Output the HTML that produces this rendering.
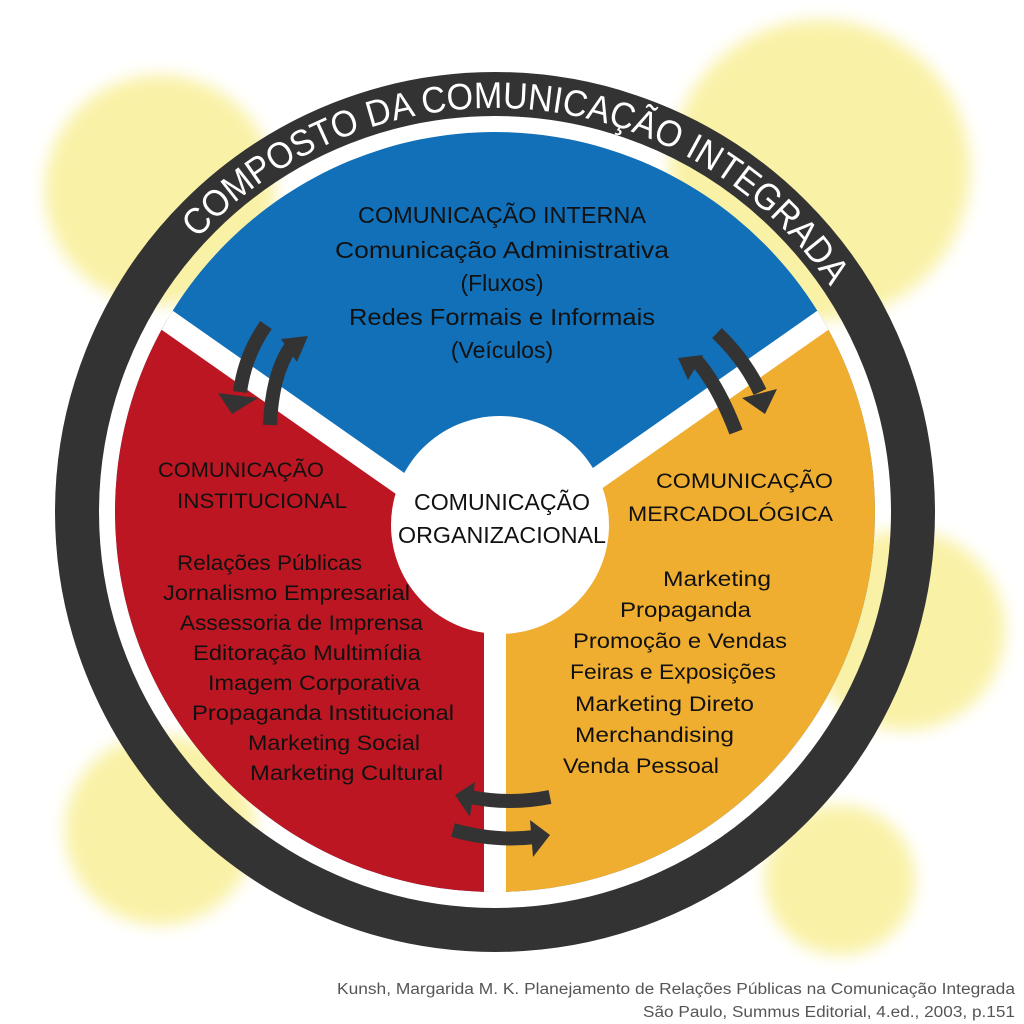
<!DOCTYPE html>
<html><head><meta charset="utf-8"><style>
html,body{margin:0;padding:0;background:#fff;}
svg{display:block;}
text{font-family:"Liberation Sans",sans-serif;}
</style></head><body>
<svg width="1024" height="1024" viewBox="0 0 1024 1024" xmlns="http://www.w3.org/2000/svg">
<defs>
<filter id="bl" x="-50%" y="-50%" width="200%" height="200%"><feGaussianBlur stdDeviation="8"/></filter>
<clipPath id="pie"><circle cx="495" cy="512" r="380"/></clipPath>
<path id="arc" d="M 495 916 A 404 404 0 1 1 495.1 916" />
</defs>
<g fill="#f8ee90" filter="url(#bl)" opacity="0.8">
<circle cx="160" cy="190" r="115"/>
<circle cx="820" cy="170" r="150"/>
<circle cx="905" cy="630" r="100"/>
<circle cx="160" cy="830" r="95"/>
<circle cx="840" cy="880" r="75"/>
</g>
<circle cx="495" cy="512" r="418" fill="none" stroke="#333" stroke-width="44"/>
<g clip-path="url(#pie)">
<rect x="0" y="0" width="1024" height="1024" fill="#1170b8"/>
<polygon points="495,550 -100,133 -100,1000 495,1000" fill="#bc1622"/>
<polygon points="495,550 1100,126 1100,1000 495,1000" fill="#f0ae30"/>
<line x1="495" y1="550" x2="-100" y2="133" stroke="#fff" stroke-width="22"/>
<line x1="495" y1="550" x2="1100" y2="126" stroke="#fff" stroke-width="22"/>
<line x1="495" y1="550" x2="495" y2="1000" stroke="#fff" stroke-width="22"/>
</g>
<circle cx="500" cy="525" r="109" fill="#fff"/>
<text font-size="37" fill="#fff"><textPath href="#arc" startOffset="51.2%" text-anchor="middle" textLength="730" lengthAdjust="spacingAndGlyphs">COMPOSTO DA COMUNICAÇÃO INTEGRADA</textPath></text>
<g font-size="23" fill="#111" text-anchor="middle">
<text x="502" y="223" textLength="288" lengthAdjust="spacingAndGlyphs">COMUNICAÇÃO INTERNA</text>
<text x="502" y="258" textLength="334" lengthAdjust="spacingAndGlyphs">Comunicação Administrativa</text>
<text x="502" y="291">(Fluxos)</text>
<text x="502" y="325" textLength="306" lengthAdjust="spacingAndGlyphs">Redes Formais e Informais</text>
<text x="502" y="358">(Veículos)</text>
<text x="502" y="510" textLength="176" lengthAdjust="spacingAndGlyphs">COMUNICAÇÃO</text>
<text x="502" y="543" textLength="208" lengthAdjust="spacingAndGlyphs">ORGANIZACIONAL</text>
</g>
<g font-size="21" fill="#111">
<text x="158" y="477" textLength="166" lengthAdjust="spacingAndGlyphs">COMUNICAÇÃO</text>
<text x="177" y="508" textLength="170" lengthAdjust="spacingAndGlyphs">INSTITUCIONAL</text>
<text x="177" y="570" textLength="185" lengthAdjust="spacingAndGlyphs">Relações Públicas</text>
<text x="163" y="600" textLength="247" lengthAdjust="spacingAndGlyphs">Jornalismo Empresarial</text>
<text x="180" y="630" textLength="243" lengthAdjust="spacingAndGlyphs">Assessoria de Imprensa</text>
<text x="193" y="660" textLength="228" lengthAdjust="spacingAndGlyphs">Editoração Multimídia</text>
<text x="208" y="690" textLength="212" lengthAdjust="spacingAndGlyphs">Imagem Corporativa</text>
<text x="192" y="720" textLength="262" lengthAdjust="spacingAndGlyphs">Propaganda Institucional</text>
<text x="248" y="750" textLength="172" lengthAdjust="spacingAndGlyphs">Marketing Social</text>
<text x="250" y="780" textLength="193" lengthAdjust="spacingAndGlyphs">Marketing Cultural</text>
<text x="656" y="488" textLength="177" lengthAdjust="spacingAndGlyphs">COMUNICAÇÃO</text>
<text x="628" y="521" textLength="205" lengthAdjust="spacingAndGlyphs">MERCADOLÓGICA</text>
<text x="663" y="586" textLength="108" lengthAdjust="spacingAndGlyphs">Marketing</text>
<text x="620" y="617" textLength="131" lengthAdjust="spacingAndGlyphs">Propaganda</text>
<text x="573" y="648" textLength="214" lengthAdjust="spacingAndGlyphs">Promoção e Vendas</text>
<text x="570" y="679" textLength="206" lengthAdjust="spacingAndGlyphs">Feiras e Exposições</text>
<text x="575" y="711" textLength="179" lengthAdjust="spacingAndGlyphs">Marketing Direto</text>
<text x="575" y="742" textLength="159" lengthAdjust="spacingAndGlyphs">Merchandising</text>
<text x="563" y="773" textLength="156" lengthAdjust="spacingAndGlyphs">Venda Pessoal</text>
</g>
<g fill="none" stroke="#333" stroke-width="14">
<path d="M 266 325 Q 245 355 240 392"/>
<path d="M 270 425 Q 272 375 290 348"/>
<path d="M 717 333 Q 745 360 760 392"/>
<path d="M 736 432 Q 718 385 696 360"/>
<path d="M 550 797 Q 510 805 470 797"/>
<path d="M 453 830 Q 495 842 535 837"/>
</g>
<g fill="#333">
<polygon points="218,393 258,398 232,414"/>
<polygon points="281,339 308,336 297,362"/>
<polygon points="742,398 777,389 765,414"/>
<polygon points="703,355 678,358 688,380"/>
<polygon points="475,782 455,795 470,817"/>
<polygon points="530,820 550,835 533,857"/>
</g>
<g font-size="15.5" fill="#555" text-anchor="end">
<text x="1015" y="994" textLength="678" lengthAdjust="spacingAndGlyphs">Kunsh, Margarida M. K. Planejamento de Relações Públicas na Comunicação Integrada</text>
<text x="1015" y="1017" textLength="372" lengthAdjust="spacingAndGlyphs">São Paulo, Summus Editorial, 4.ed., 2003, p.151</text>
</g>
</svg>
</body></html>
